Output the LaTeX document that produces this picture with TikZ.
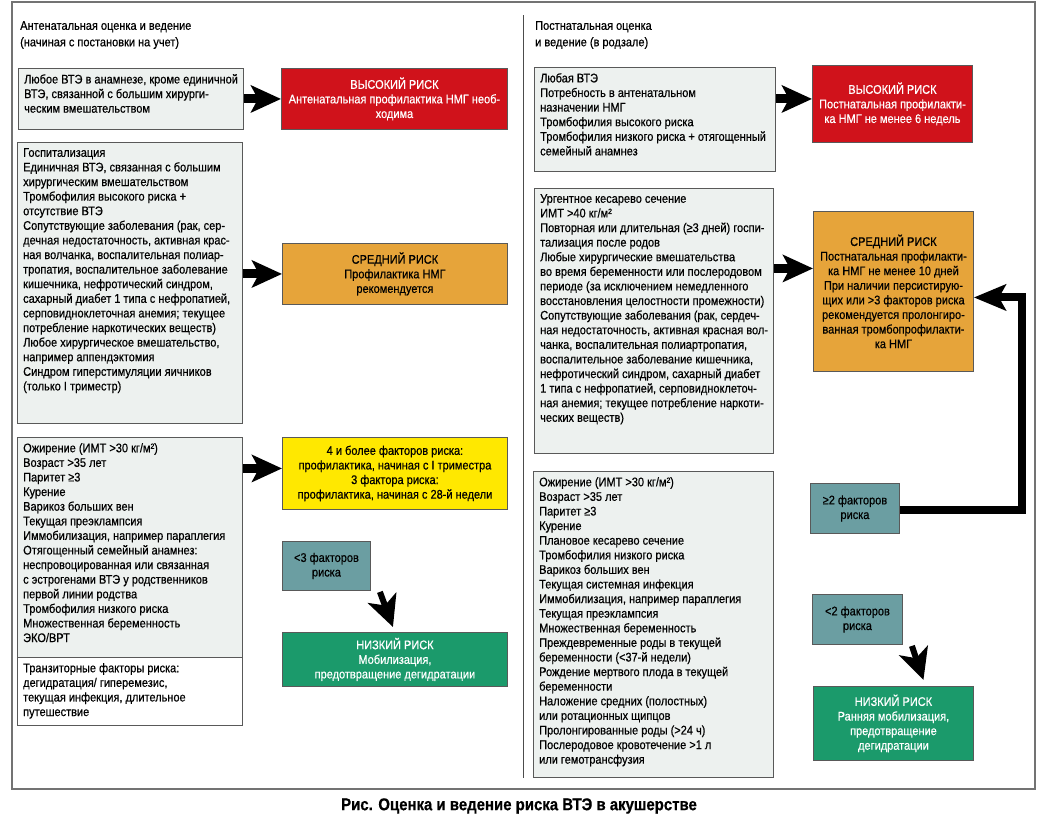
\documentclass[tikz,border=0pt]{standalone}
\usepackage{fontspec}
\setmainfont{Liberation Sans}[FakeStretch=0.88,FakeBold=0.5]
\usetikzlibrary{arrows.meta,calc}
\definecolor{boxgray}{HTML}{EDF1EF}
\definecolor{vred}{HTML}{D0121B}
\definecolor{vorange}{HTML}{E6A43A}
\definecolor{vyellow}{HTML}{FFE800}
\definecolor{vteal}{HTML}{6B9EA2}
\definecolor{vgreen}{HTML}{1B9A6B}
\newcommand{\txtsz}{\fontsize{12.5}{14.6}\selectfont}
\newcommand{\graybox}[7]{%
  \node[gbox, fill=#6, minimum width=#4pt, minimum height=#5pt, anchor=north west] (#1) at (#2,#3) {};
  \node[btext, anchor=north west] (#1t) at ([xshift=6pt,yshift=-6pt]#1.north west) {#7};
}
\newcommand{\colbox}[7]{%
  \node[#6, minimum width=#4pt, minimum height=#5pt, anchor=north west] (#1) at (#2,#3) {#7};
}
\begin{document}
\begin{tikzpicture}[x=1pt,y=-1pt,
  gbox/.style={draw=black!65, line width=0.9pt, inner sep=0pt},
  btext/.style={inner sep=0pt, align=left, font=\txtsz},
  cb/.style={draw=black!65, line width=0.9pt, inner sep=2pt, align=center, font=\txtsz},
  redbox/.style={cb, fill=vred, text=white},
  orbox/.style={cb, fill=vorange, text=black},
  yelbox/.style={cb, fill=vyellow, text=black},
  tealbox/.style={cb, fill=vteal, text=black},
  grnbox/.style={cb, fill=vgreen, text=white},
  fat/.style={line width=9pt, -{Stealth[length=30pt,width=27pt,inset=7pt]}},
  diag/.style={line width=6pt, -{Stealth[length=31pt,width=30pt,inset=8pt]}},
  loopline/.style={line width=8pt, miter limit=10, -{Stealth[length=32pt,width=26pt,inset=7pt]}},
  hdr/.style={inner sep=0pt, align=left, font=\fontsize{12.5}{16.5}\selectfont},
]
\useasboundingbox (0,0) rectangle (1039,836);
% frame and divider
\draw[draw=black!55, line width=1.6pt] (12,2) rectangle (1035,789);
\coordinate (dtop) at (523,15);
\coordinate (dbot) at (523,778);
\draw[draw=black!70, line width=0.9pt] (dtop) -- (dbot);

% headers
\node[hdr, anchor=north west] (hl) at (20,21) {Антенатальная оценка и ведение\\(начиная с постановки на учет)};
\node[hdr, anchor=north west] (hr) at (535,21) {Постнатальная оценка\\и ведение (в родзале)};

% ---------- left column ----------
\graybox{L1}{18}{68}{225}{61}{boxgray}{Любое ВТЭ в анамнезе, кроме единичной\\ВТЭ, связанной с большим хирурги-\\ческим вмешательством}
\colbox{rL}{281}{68}{226}{61}{redbox}{ВЫСОКИЙ РИСК\\Антенатальная профилактика НМГ необ-\\ходима}

\graybox{L2}{17}{142}{225}{281}{boxgray}{Госпитализация\\Единичная ВТЭ, связанная с большим\\хирургическим вмешательством\\Тромбофилия высокого риска +\\отсутствие ВТЭ\\Сопутствующие заболевания (рак, сер-\\дечная недостаточность, активная крас-\\ная волчанка, воспалительная полиар-\\тропатия, воспалительное заболевание\\кишечника, нефротический синдром,\\сахарный диабет 1 типа с нефропатией,\\серповидноклеточная анемия; текущее\\потребление наркотических веществ)\\Любое хирургическое вмешательство,\\например аппендэктомия\\Синдром гиперстимуляции яичников\\(только I триместр)}
\colbox{oL}{282}{243}{225}{61}{orbox}{СРЕДНИЙ РИСК\\Профилактика НМГ\\рекомендуется}

\graybox{L3}{17}{437}{225}{220}{boxgray}{Ожирение (ИМТ >30 кг/м²)\\Возраст >35 лет\\Паритет ≥3\\Курение\\Варикоз больших вен\\Текущая преэклампсия\\Иммобилизация, например параплегия\\Отягощенный семейный анамнез:\\неспровоцированная или связанная\\с эстрогенами ВТЭ у родственников\\первой линии родства\\Тромбофилия низкого риска\\Множественная беременность\\ЭКО/ВРТ}
\graybox{L4}{17}{657}{225}{68}{white}{Транзиторные факторы риска:\\дегидратация/ гиперемезис,\\текущая инфекция, длительное\\путешествие}
\colbox{yL}{282}{437}{225}{72}{yelbox}{4 и более факторов риска:\\профилактика, начиная с I триместра\\3 фактора риска:\\профилактика, начиная с 28-й недели}
\colbox{tL}{282}{541}{88}{49}{tealbox}{<3 факторов\\риска}
\colbox{gL}{282}{632}{225}{54}{grnbox}{НИЗКИЙ РИСК\\Мобилизация,\\предотвращение дегидратации}

% ---------- right column ----------
\graybox{R1}{534}{67}{241}{104}{boxgray}{Любая ВТЭ\\Потребность в антенатальном\\назначении НМГ\\Тромбофилия высокого риска\\Тромбофилия низкого риска + отягощенный\\семейный анамнез}
\colbox{rR}{812}{65}{160}{77}{redbox}{ВЫСОКИЙ РИСК\\Постнатальная профилакти-\\ка НМГ не менее 6 недель}

\graybox{R2}{534}{188}{239}{265}{boxgray}{Ургентное кесарево сечение\\ИМТ >40 кг/м²\\Повторная или длительная (≥3 дней) госпи-\\тализация после родов\\Любые хирургические вмешательства\\во время беременности или послеродовом\\периоде (за исключением немедленного\\восстановления целостности промежности)\\Сопутствующие заболевания (рак, сердеч-\\ная недостаточность, активная красная вол-\\чанка, воспалительная полиартропатия,\\воспалительное заболевание кишечника,\\нефротический синдром, сахарный диабет\\1 типа с нефропатией, серповидноклеточ-\\ная анемия; текущее потребление наркоти-\\ческих веществ)}
\colbox{oR}{813}{211}{160}{160}{orbox}{СРЕДНИЙ РИСК\\Постнатальная профилакти-\\ка НМГ не менее 10 дней\\При наличии персистирую-\\щих или >3 факторов риска\\рекомендуется пролонгиро-\\ванная тромбопрофилакти-\\ка НМГ}

\graybox{R3}{533}{471}{240}{306}{boxgray}{Ожирение (ИМТ >30 кг/м²)\\Возраст >35 лет\\Паритет ≥3\\Курение\\Плановое кесарево сечение\\Тромбофилия низкого риска\\Варикоз больших вен\\Текущая системная инфекция\\Иммобилизация, например параплегия\\Текущая преэклампсия\\Множественная беременность\\Преждевременные роды в текущей\\беременности (<37-й недели)\\Рождение мертвого плода в текущей\\беременности\\Наложение средних (полостных)\\или ротационных щипцов\\Пролонгированные роды (>24 ч)\\Послеродовое кровотечение >1 л\\или гемотрансфузия}
\colbox{tR1}{810}{483}{89}{50}{tealbox}{≥2 факторов\\риска}
\colbox{tR2}{812}{594}{90}{50}{tealbox}{<2 факторов\\риска}
\colbox{gR}{813}{686}{160}{74}{grnbox}{НИЗКИЙ РИСК\\Ранняя мобилизация,\\предотвращение\\дегидратации}

% ---------- arrows ----------
\draw[fat] (L1.east |- rL.west) -- (rL.west);
\draw[fat] (L2.east |- oL.west) -- (oL.west);
\draw[fat] ([yshift=5pt]L3.east |- yL.west) -- ([yshift=5pt]yL.west);
\draw[fat] ([yshift=5pt]R1.east |- rR.west) -- ([yshift=5pt]rR.west);
\draw[fat] ([yshift=23pt]R2.east |- oR.west) -- ([yshift=23pt]oR.west);
\draw[diag] ([xshift=9pt,yshift=-1pt]tL.south east) -- ([xshift=-2pt,yshift=5pt]gL.north);
\draw[diag] ([xshift=9pt,yshift=-1pt]tR2.south east) -- ([xshift=30pt,yshift=6pt]gR.north);
\coordinate (fb) at (1022,510);
\draw[loopline] (tR1.east |- fb) -- (fb) |- ([yshift=-6pt]oR.east);

% caption
\node[inner sep=0pt, font=\fontsize{17}{19}\selectfont\bfseries] (cap) at (519,806) {Рис. Оценка и ведение риска ВТЭ в акушерстве};
\end{tikzpicture}
\end{document}
